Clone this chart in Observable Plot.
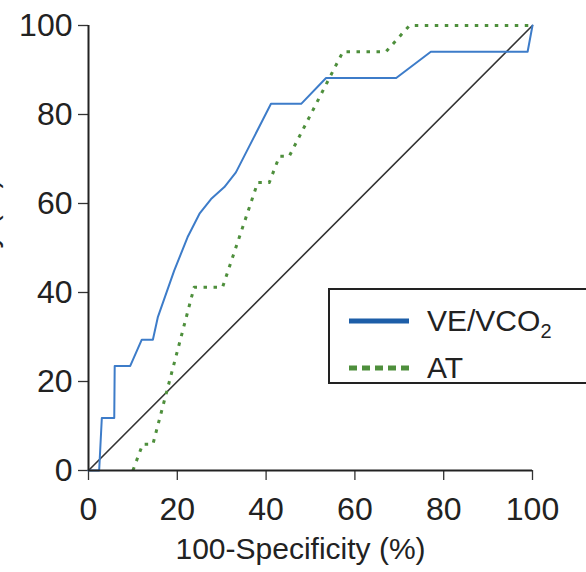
<!DOCTYPE html>
<html>
<head>
<meta charset="utf-8">
<script src="https://cdn.jsdelivr.net/npm/d3@7"></script>
<script src="https://cdn.jsdelivr.net/npm/@observablehq/plot@0.6"></script>
<style>
  html, body { margin: 0; padding: 0; background: #fff; overflow: hidden; }
  #wrap { position: relative; width: 586px; height: 572px; overflow: hidden; font-family: "Liberation Sans", Arial, sans-serif; }
  #legend { position: absolute; left: 328px; top: 288px; width: 290px; height: 96px; border: 2.5px solid #222; box-sizing: border-box; background: #fff; }
  .lt { position: absolute; left: 97px; font-size: 30px; color: #222; white-space: nowrap; line-height: 1; }
  .lt sub { font-size: 20px; vertical-align: -7px; line-height: 0; }
</style>
</head>
<body>
<div id="wrap">
  <div id="chart"></div>
  <div id="legend"></div>
</div>
<script>
// ROC curve data (x = 100-Specificity %, y = Sensitivity %)
const veX = [0, 2.4, 3.0, 5.8, 5.9, 9.4, 12.0, 14.5, 15.6, 19.3, 22.3, 25.0, 27.6, 30.6, 33.2, 41.1, 47.9, 53.5, 69.3, 77.1, 98.9, 100];
const veY = [0, 0, 11.8, 11.8, 23.5, 23.5, 29.4, 29.4, 34.4, 44.9, 52.4, 57.7, 61.0, 63.7, 67.0, 82.4, 82.4, 88.2, 88.2, 94.1, 94.1, 100];
const atX = [10.0, 12.2, 14.5, 23.8, 30.2, 38.1, 40.7, 43.0, 45.2, 57.3, 67.0, 72.3, 100];
const atY = [0, 5.9, 5.9, 41.2, 41.2, 64.7, 64.7, 70.6, 70.6, 94.1, 94.1, 100, 100];
const diagX = [0, 100];
const diagY = [0, 100];
const xTicks = [0, 20, 40, 60, 80, 100];
const yTicks = [0, 20, 40, 60, 80, 100];
const seriesNames = ["VE/VCO2", "AT"];
const xLabel = "100-Specificity (%)";
const yLabel = "Sensitivity (%)";

const blue = "#3d7cc9";
const legendBlue = "#1d5ea8";
const green = "#4e8f3c";

const ve = veX.map((x, i) => ({x, y: veY[i]}));
const at = atX.map((x, i) => ({x, y: atY[i]}));
const diag = diagX.map((x, i) => ({x, y: diagY[i]}));

const chart = Plot.plot({
  width: 586,
  height: 572,
  marginLeft: 88,
  marginRight: 54,
  marginTop: 25,
  marginBottom: 102,
  style: {fontFamily: "'Liberation Sans', Arial, sans-serif", fontSize: "32px", color: "#222", background: "#fff", overflow: "hidden"},
  x: {domain: [0, 100], ticks: xTicks, tickSize: 10, tickPadding: 17, label: null},
  y: {domain: [0, 100], ticks: yTicks, tickSize: 10, tickPadding: 6, label: null},
  marks: [
    Plot.axisX({ticks: xTicks, tickSize: 10, tickPadding: 17, label: null, stroke: "#333", strokeWidth: 1.3}),
    Plot.axisY({ticks: yTicks, tickSize: 10, tickPadding: 6, label: null, stroke: "#333", strokeWidth: 1.3}),
    Plot.line(diag, {x: "x", y: "y", stroke: "#333", strokeWidth: 1.6}),
    Plot.line(at, {x: "x", y: "y", stroke: green, strokeWidth: 3, strokeDasharray: "3.5,6.5", strokeLinecap: "butt"}),
    Plot.line(ve, {x: "x", y: "y", stroke: blue, strokeWidth: 2}),
    Plot.ruleX([0], {stroke: "#222", strokeWidth: 2}),
    Plot.ruleY([0], {stroke: "#222", strokeWidth: 2}),
    Plot.text([xLabel], {text: d => d, frameAnchor: "bottom", dy: 88, dx: -10, fontSize: 30, fill: "#222"}),
    Plot.text([yLabel], {text: d => d, frameAnchor: "top-left", dx: -92, dy: 153, rotate: -90, textAnchor: "end", lineAnchor: "bottom", fontSize: 30, fill: "#222"})
  ]
});
document.getElementById("chart").appendChild(chart);

// legend
const lg = document.getElementById("legend");
lg.innerHTML = `
  <svg style="position:absolute;left:0;top:0" width="290" height="96">
    <line x1="19" x2="79" y1="31" y2="31" stroke="${legendBlue}" stroke-width="5"/>
    <line x1="19" x2="79" y1="78" y2="78" stroke="${green}" stroke-width="5" stroke-dasharray="8,5"/>
  </svg>
  <div class="lt" style="top:16px">${seriesNames[0].slice(0, -1)}<sub>2</sub></div>
  <div class="lt" style="top:63px">${seriesNames[1]}</div>`;
</script>
</body>
</html>
